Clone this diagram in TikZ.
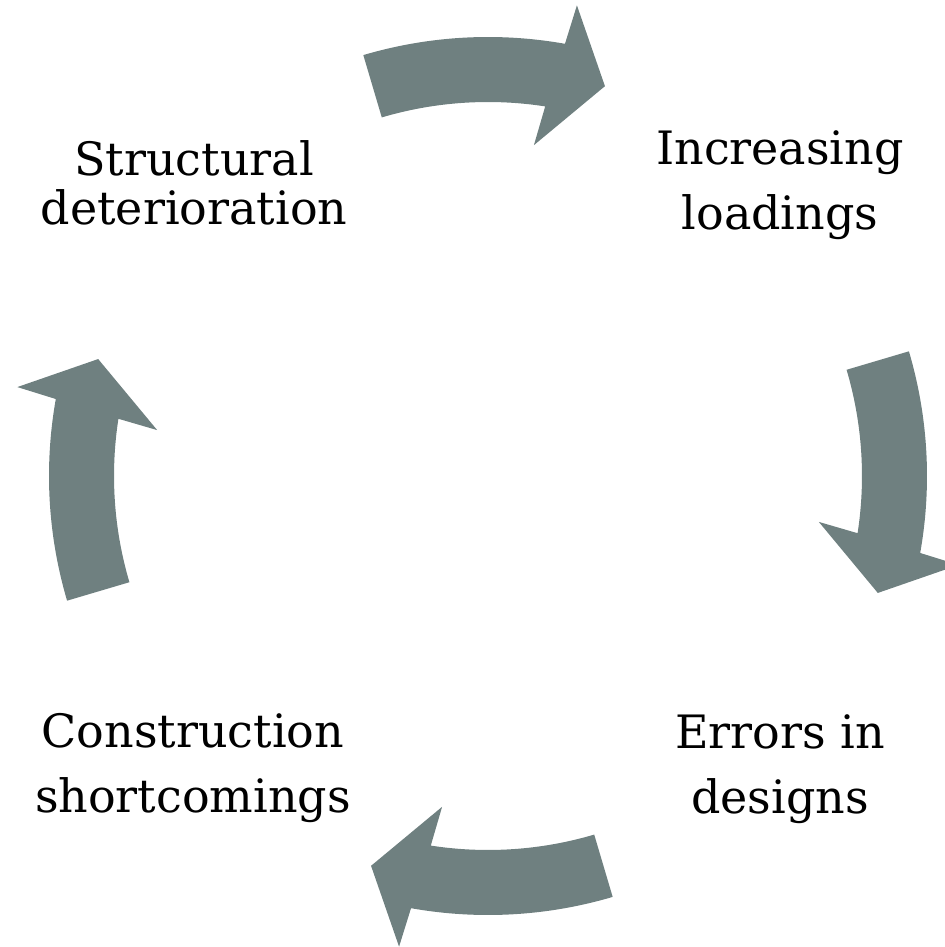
\documentclass[tikz,border=0pt]{standalone}
\usepackage{fontspec}
\setmainfont{DejaVu Serif}
\definecolor{cyclegray}{RGB}{111,128,128}

\begin{document}
\begin{tikzpicture}[x=0.5pt,y=0.5pt]
\tikzstyle{cyclearrow}=[fill=cyclegray,draw=none]
\tikzstyle{cyclelabel}=[align=center,anchor=base,inner sep=0pt,
                        font=\fontsize{23}{32.5}\selectfont]

  \useasboundingbox (-488,-471) rectangle (456,476);

  % four curved block arrows, one per quarter, turning clockwise
  \foreach \r in {0,-90,-180,-270}
    \fill[cyclearrow,rotate=\r]
      (106.5:439) arc[start angle=106.5,end angle=79.9,radius=439]
      -- (79.3:479) -- (73.3:407) -- (82.1:334)
      -- (81.2:374) arc[start angle=81.2,end angle=106.5,radius=374]
      -- cycle;

  % base anchor sits on the last line
  \node[cyclelabel]                                              (inc) at (292,246)   {Increasing\\loadings};
  \node[cyclelabel]                                              (err) at (292,-337)  {Errors in\\designs};
  \node[cyclelabel]                                              (con) at (-295,-336) {Construction\\shortcomings};
  \node[cyclelabel,font=\fontsize{23}{24.5}\selectfont]          (str) at (-294,251)  {Structural\\deterioration};

\end{tikzpicture}
\end{document}
